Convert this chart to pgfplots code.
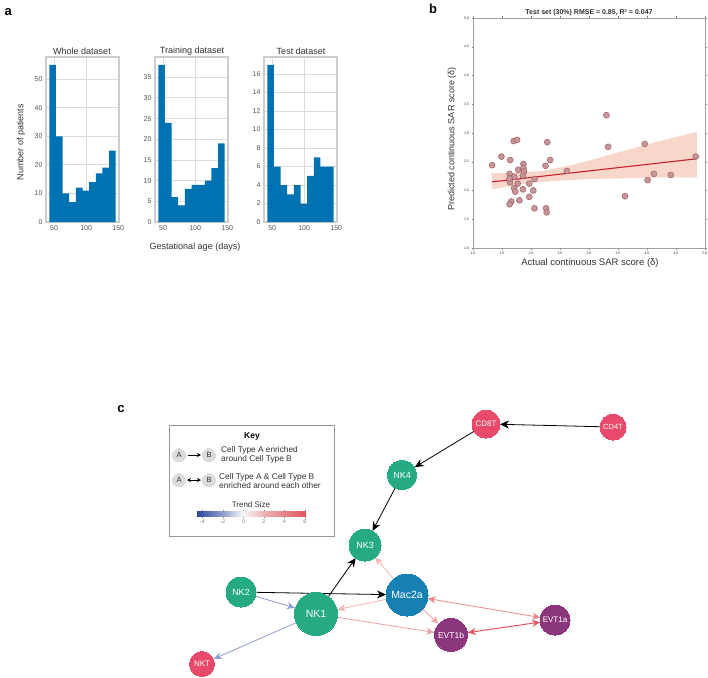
\documentclass[border=0pt]{standalone}
\usepackage{fontspec}
\setmainfont{Liberation Sans}
\usepackage{pgfplots}
\usepackage{pgfplotstable}
\pgfplotsset{compat=1.18}
\usetikzlibrary{arrows.meta}

\definecolor{histblue}{RGB}{0,114,178}
\definecolor{gridc}{RGB}{218,218,218}
\definecolor{framec}{RGB}{205,205,205}
\definecolor{tickc}{RGB}{85,85,85}
\definecolor{titc}{RGB}{50,50,50}
\definecolor{ptfill}{RGB}{196,150,152}
\definecolor{ptedge}{RGB}{165,95,100}
\definecolor{bandc}{RGB}{249,214,202}
\definecolor{linec}{RGB}{200,30,45}
\definecolor{nodepink}{RGB}{231,74,107}
\definecolor{nodegreen}{RGB}{38,170,132}
\definecolor{nodeblue}{RGB}{22,128,178}
\definecolor{nodepurple}{RGB}{140,55,125}
\definecolor{epinkA}{RGB}{243,180,180}
\definecolor{epinkB}{RGB}{238,160,162}
\definecolor{epinkC}{RGB}{234,135,135}
\definecolor{eredD}{RGB}{226,85,95}
\definecolor{eblue}{RGB}{145,155,205}
\definecolor{keygray}{RGB}{220,220,220}

\pgfplotstableread{
edge whole train test
42.5 55 38 17
52.85 30 24 6
63.2 10 6 4
73.55 7 4 3
83.9 12 8 4
94.25 11 9 2
104.6 14 9 5
114.95 17 10 7
125.3 19 13 6
135.65 25 19 6
146.0 25 19 6
}\histdata

\pgfplotstableread{
x y
1.70 2.86
1.76 2.88
2.28 2.84
1.49 2.59
1.64 2.53
1.87 2.46
2.33 2.53
1.33 2.44
2.25 2.43
1.78 2.36
1.87 2.39
1.88 2.33
1.63 2.29
1.71 2.24
1.86 2.26
2.62 2.34
2.06 2.20
1.64 2.14
1.77 2.12
1.97 2.12
1.71 2.04
1.73 1.98
1.86 2.02
2.04 2.00
1.97 1.89
1.80 1.83
1.66 1.81
1.63 1.76
2.06 1.69
2.26 1.69
2.27 1.62
1.63 2.21
3.30 3.31
3.33 2.76
3.96 2.81
4.84 2.59
4.12 2.29
4.01 2.18
4.41 2.27
3.62 1.90
}\sardata

\pgfplotsset{
  histax/.style={scale only axis, width=73pt, height=165pt, anchor=north west,
    xmin=37.3, xmax=151.2, ymin=0, xtick={50,100,150},
    grid=major, major grid style={draw=gridc, line width=0.9pt},
    axis line style={draw=framec, line width=1.5pt},
    tick style={draw=none},
    tick label style={font=\fontsize{7}{8}\selectfont, text=tickc},
    /pgf/number format/assume math mode=true},
  netnode/.style={only marks, mark=*, mark options={fill=#1, draw=#1, line width=0pt}},
}

\begin{document}
\begin{tikzpicture}
\path[use as bounding box, fill=white] (0,0) rectangle (708pt,-677pt);

% ---------------- panel a ----------------
\begin{axis}[histax, at={(46pt,-57pt)}, ymax=57.75, ytick={0,10,...,50}]
\addplot[fill=histblue, draw=none, const plot] table[x=edge,y=whole]{\histdata} \closedcycle;
\end{axis}
\begin{axis}[histax, at={(155pt,-57pt)}, ymax=39.9, ytick={0,5,...,35}]
\addplot[fill=histblue, draw=none, const plot] table[x=edge,y=train]{\histdata} \closedcycle;
\end{axis}
\begin{axis}[histax, at={(264pt,-57pt)}, ymax=17.85, ytick={0,2,...,16}]
\addplot[fill=histblue, draw=none, const plot] table[x=edge,y=test]{\histdata} \closedcycle;
\end{axis}
\node[font=\bfseries\fontsize{13}{14}\selectfont, anchor=west] at (1pt,-12pt) {a};
\node[font=\fontsize{9}{10}\selectfont, text=titc] at (82pt,-51pt) {Whole dataset};
\node[font=\fontsize{9}{10}\selectfont, text=titc] at (192pt,-51pt) {Training dataset};
\node[font=\fontsize{9}{10}\selectfont, text=titc] at (301pt,-51pt) {Test dataset};
\node[font=\fontsize{9}{10}\selectfont, text=titc, rotate=90] at (21pt,-142pt) {Number of patients};
\node[font=\fontsize{9}{10}\selectfont, text=titc] at (195pt,-247pt) {Gestational age (days)};

% ---------------- panel b ----------------
\begin{axis}[scale only axis, width=232pt, height=230pt, at={(473pt,-18pt)}, anchor=north west,
  xmin=1, xmax=5, ymin=1, ymax=5, xtick distance=0.5, ytick distance=0.5,
  tick align=outside, major tick length=1.5pt,
  tick style={draw=gray, line width=0.4pt},
  tick label style={font=\fontsize{3.5}{4}\selectfont, text=titc},
  xticklabel style={/pgf/number format/.cd, fixed, fixed zerofill, precision=1, assume math mode=true},
  yticklabel style={/pgf/number format/.cd, fixed, fixed zerofill, precision=1, assume math mode=true},
  xticklabel shift=-1pt, yticklabel shift=-1pt,
  axis line style={draw={rgb,255:red,160;green,160;blue,160}, line width=0.8pt}]
\addplot[fill=bandc, draw=none] coordinates {
 (1.32,2.30) (1.8,2.31) (2.2,2.34) (2.6,2.42) (3.0,2.52) (3.5,2.66) (4.0,2.80) (4.5,2.93) (4.86,3.02)
 (4.86,2.23) (4.5,2.23) (4.0,2.22) (3.5,2.21) (3.0,2.20) (2.6,2.18) (2.2,2.15) (1.8,2.11) (1.32,2.02)};
\addplot[only marks, mark=*, mark size=3pt, mark options={fill=ptfill, draw=ptedge, line width=0.5pt}] table[x=x,y=y]{\sardata};
\addplot[linec, line width=1.1pt] coordinates {(1.33,2.15) (4.84,2.55)};
\end{axis}
\node[font=\bfseries\fontsize{13}{14}\selectfont] at (433pt,-9pt) {b};
\node[font=\bfseries\fontsize{7}{8}\selectfont, text=titc] at (589pt,-13pt) {Test set (30\%) RMSE = 0.85, R² = 0.047};
\node[font=\fontsize{9}{10}\selectfont, text=titc, rotate=90] at (452pt,-139pt) {Predicted continuous SAR score (δ)};
\node[font=\fontsize{9.5}{11}\selectfont, text=titc] at (590pt,-263pt) {Actual continuous SAR score (δ)};

% ---------------- panel c ----------------
\begin{axis}[at={(0pt,-380pt)}, anchor=north west, x=1pt, y=1pt, y dir=reverse,
  xmin=0, xmax=708, ymin=380, ymax=677, hide axis, clip=false]
% key
\draw[draw={rgb,255:red,150;green,150;blue,150}, line width=0.6pt] (169,425) rectangle (334,536);
\addplot[netnode=keygray, mark size=6.5pt] coordinates {(179,455) (209,455) (179,480) (209,480)};
\draw[black, line width=0.7pt, -{Stealth[length=4pt,width=4pt]}] (188,455) -- (201,455);
\draw[black, line width=0.7pt, {Stealth[length=4pt,width=4pt]}-{Stealth[length=4pt,width=4pt]}] (187,480) -- (201,480);

% edges
\addplot[black, line width=0.8pt, -{Stealth[length=9pt,width=8pt]}] coordinates {(600,426.7) (500,424.3)};
\addplot[black, line width=0.8pt, -{Stealth[length=9pt,width=8pt]}] coordinates {(474.0,431.3) (414.8,467.2)};
\addplot[black, line width=0.8pt, -{Stealth[length=9pt,width=8pt]}] coordinates {(395.0,488.3) (372.5,530.9)};
\addplot[black, line width=0.8pt, -{Stealth[length=9pt,width=8pt]}] coordinates {(328.7,596.1) (355.7,558.0)};
\addplot[black, line width=0.8pt, -{Stealth[length=9pt,width=8pt]}] coordinates {(256,592.3) (386,594.6)};
\addplot[eblue, line width=0.8pt, -{Stealth[length=8pt,width=7pt]}] coordinates {(255.4,596.2) (294.9,607.8)};
\addplot[eblue, line width=0.8pt, -{Stealth[length=8pt,width=7pt]}] coordinates {(295.9,622.8) (213.9,658.8)};
\addplot[epinkA, line width=0.8pt, -{Stealth[length=8pt,width=7pt]}] coordinates {(393.5,578.9) (375.3,557.3)};
\addplot[epinkA, line width=0.8pt, -{Stealth[length=8pt,width=7pt]}] coordinates {(386.4,599.3) (337.5,609.5)};
\addplot[epinkB, line width=0.8pt, -{Stealth[length=8pt,width=7pt]}] coordinates {(422.5,609.1) (438.4,623.6)};
\addplot[epinkB, line width=0.8pt, -{Stealth[length=8pt,width=7pt]}] coordinates {(337.7,617.4) (434.2,632.4)};
\addplot[epinkC, line width=0.8pt, {Stealth[length=8pt,width=7pt]}-{Stealth[length=8pt,width=7pt]}] coordinates {(427.7,598.5) (540.2,617.5)};
\addplot[eredD, line width=1pt, {Stealth[length=8pt,width=7pt]}-{Stealth[length=8pt,width=7pt]}] coordinates {(467.8,632.6) (540.2,622.1)};

% nodes
\addplot[netnode=nodepink, mark size=14pt] coordinates {(486,424)};
\addplot[netnode=nodepink, mark size=13pt] coordinates {(613,427)};
\addplot[netnode=nodepink, mark size=12.5pt] coordinates {(202,664)};
\addplot[netnode=nodegreen, mark size=14.5pt] coordinates {(402,475)};
\addplot[netnode=nodegreen, mark size=16pt] coordinates {(365,545)};
\addplot[netnode=nodegreen, mark size=15pt] coordinates {(241,592)};
\addplot[netnode=nodegreen, mark size=21.5pt] coordinates {(316,614)};
\addplot[netnode=nodeblue, mark size=21pt] coordinates {(407,595)};
\addplot[netnode=nodepurple, mark size=16.5pt] coordinates {(451,635)};
\addplot[netnode=nodepurple, mark size=15pt] coordinates {(555,620)};
\end{axis}
\node[font=\bfseries\fontsize{13}{14}\selectfont] at (121pt,-409pt) {c};
% key texts
\node[font=\bfseries\fontsize{8.5}{10}\selectfont] at (252pt,-436pt) {Key};
\node[font=\fontsize{7.5}{9}\selectfont, text=titc] at (179pt,-455pt) {A};
\node[font=\fontsize{7.5}{9}\selectfont, text=titc] at (209pt,-455pt) {B};
\node[font=\fontsize{7.5}{9}\selectfont, text=titc] at (179pt,-480pt) {A};
\node[font=\fontsize{7.5}{9}\selectfont, text=titc] at (209pt,-480pt) {B};
\node[font=\fontsize{8.3}{9.6}\selectfont, text=titc, anchor=west, align=left, inner sep=0pt] at (221pt,-455pt) {Cell Type A enriched\\around Cell Type B};
\node[font=\fontsize{8.3}{9.6}\selectfont, text=titc, anchor=west, align=left, inner sep=0pt] at (219pt,-481pt) {Cell Type A \& Cell Type B\\enriched around each other};
\node[font=\fontsize{8}{9}\selectfont, text=titc] at (251pt,-505pt) {Trend Size};
% node labels
\node[text=white, font=\fontsize{8}{9}\selectfont] at (486pt,-424pt) {CD8T};
\node[text=white, font=\fontsize{7.5}{9}\selectfont] at (613pt,-427pt) {CD4T};
\node[text=white, font=\fontsize{8}{9}\selectfont] at (202pt,-664pt) {NKT};
\node[text=white, font=\fontsize{9}{10}\selectfont] at (402pt,-475pt) {NK4};
\node[text=white, font=\fontsize{9}{10}\selectfont] at (365pt,-545pt) {NK3};
\node[text=white, font=\fontsize{9}{10}\selectfont] at (241pt,-592pt) {NK2};
\node[text=white, font=\fontsize{10.5}{12}\selectfont] at (316pt,-614pt) {NK1};
\node[text=white, font=\fontsize{10.5}{12}\selectfont] at (407pt,-595pt) {Mac2a};
\node[text=white, font=\fontsize{8.5}{10}\selectfont] at (451pt,-635pt) {EVT1b};
\node[text=white, font=\fontsize{8}{9}\selectfont] at (555pt,-620pt) {EVT1a};

% colorbar
\begin{axis}[scale only axis, at={(197pt,-511pt)}, anchor=north west, width=108pt, height=5pt,
  xmin=-4.5, xmax=6, ymin=0, ymax=1, xtick={-4,-2,0,2,4,6}, ytick=\empty,
  axis line style={draw=none}, tick align=outside, major tick length=1.5pt,
  tick style={draw=gray, line width=0.3pt},
  tick label style={font=\fontsize{5.5}{6}\selectfont, text=gray},
  xticklabel shift=-1.5pt,
  /pgf/number format/assume math mode=true,
  colormap={trend}{rgb255(0pt)=(45,70,155); rgb255(25pt)=(145,160,205); rgb255(45pt)=(248,248,248); rgb255(65pt)=(236,178,180); rgb255(105pt)=(225,85,95)},
  point meta min=-4.5, point meta max=6]
\addplot[surf, shader=interp, mesh/cols=5, point meta=explicit] coordinates {
 (-4.5,0) [-4.5] (-2,0) [-2] (0,0) [0] (2,0) [2] (6,0) [6]
 (-4.5,1) [-4.5] (-2,1) [-2] (0,1) [0] (2,1) [2] (6,1) [6]};
\end{axis}
\end{tikzpicture}
\end{document}
